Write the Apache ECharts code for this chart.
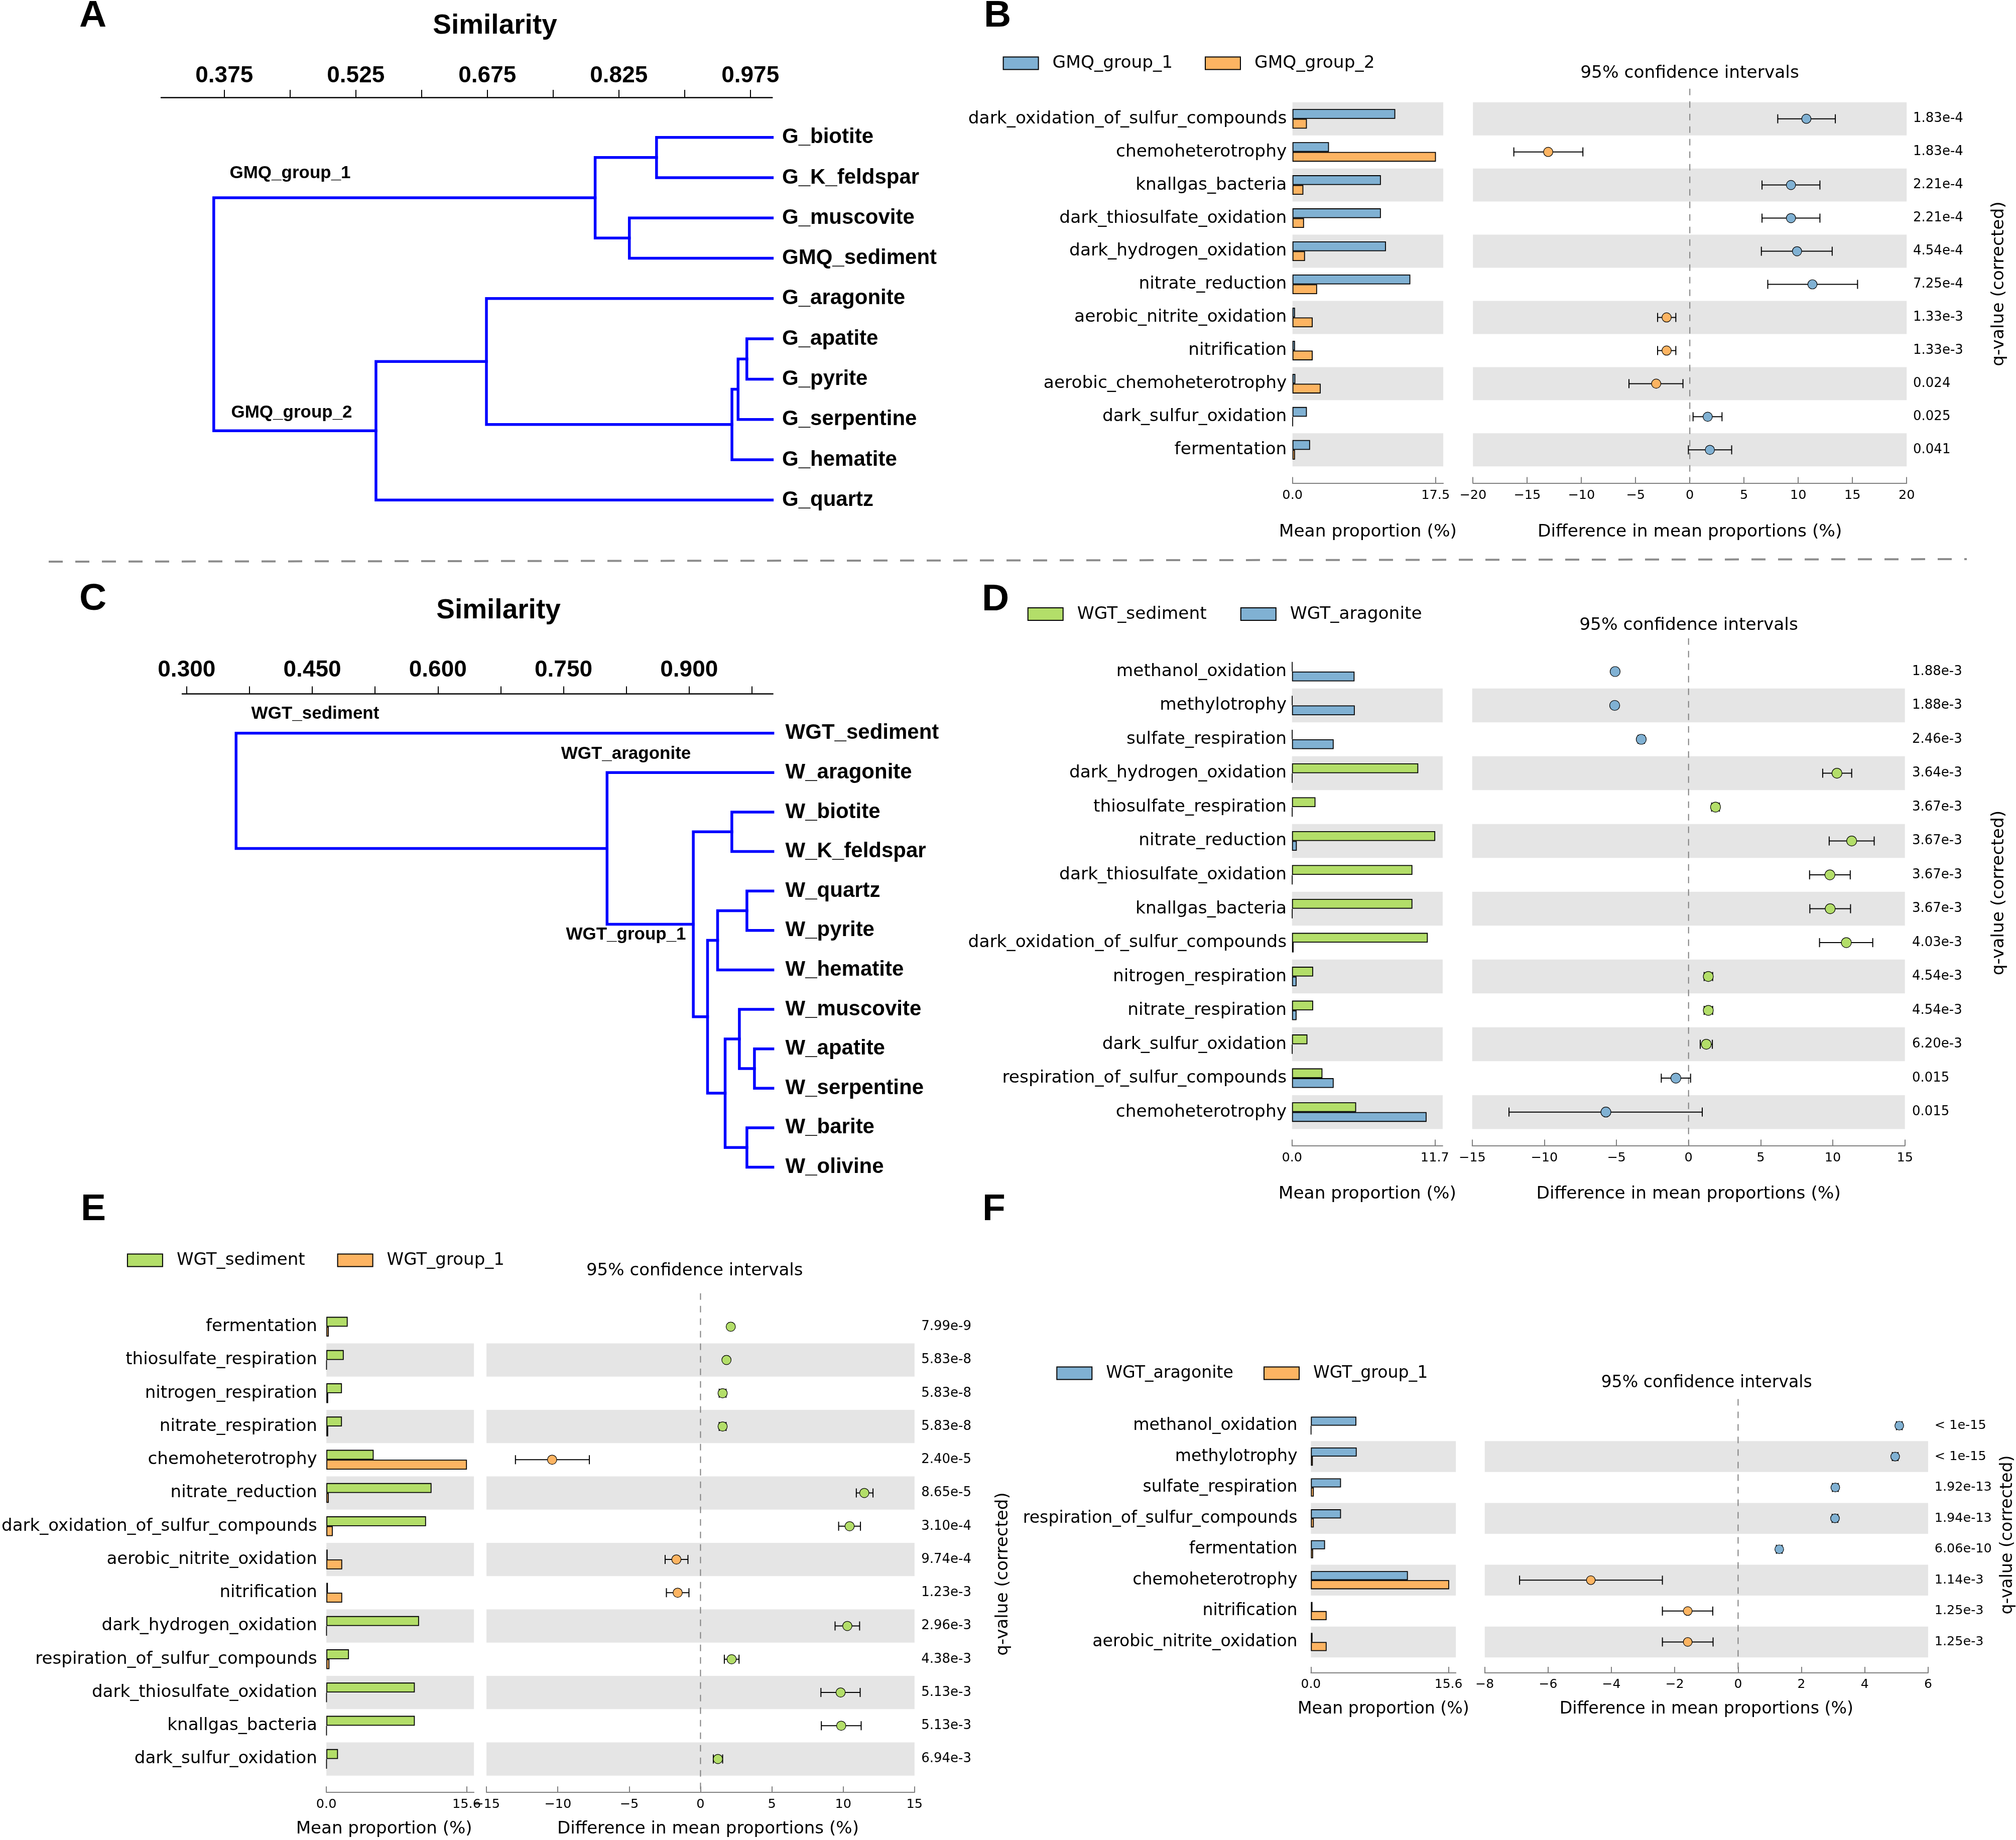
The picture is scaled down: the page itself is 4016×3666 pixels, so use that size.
<!DOCTYPE html>
<html><head><meta charset="utf-8">
<script src="https://cdn.jsdelivr.net/npm/echarts@6/dist/echarts.min.js"></script>
<style>html,body{margin:0;padding:0;background:#fff}#c{width:4016px;height:3666px}</style>
</head><body><div id="c"></div>
<script>
// ================= DATA =================
// Panel A dendrogram (similarity); merges: [childA, childB, similarity], children index leaves 0..n-1, merges n..
const A_LEAVES = ['G_biotite','G_K_feldspar','G_muscovite','GMQ_sediment','G_aragonite','G_apatite','G_pyrite','G_serpentine','G_hematite','G_quartz'];
const A_MERGES = [[0,1,0.868],[2,3,0.837],[10,11,0.798],[5,6,0.971],[13,7,0.961],[14,8,0.954],[4,15,0.674],[16,9,0.548],[12,17,0.363]];
const A_TICKS = [0.375,0.45,0.525,0.6,0.675,0.75,0.825,0.9,0.975];
const A_TICK_LABELS = [0.375,0.525,0.675,0.825,0.975];
const A_CLUSTERS = ['GMQ_group_1','GMQ_group_2'];

// Panel C dendrogram
const C_LEAVES = ['WGT_sediment','W_aragonite','W_biotite','W_K_feldspar','W_quartz','W_pyrite','W_hematite','W_muscovite','W_apatite','W_serpentine','W_barite','W_olivine'];
const C_MERGES = [[2,3,0.951],[4,5,0.969],[13,6,0.934],[8,9,0.978],[7,15,0.960],[10,11,0.969],[16,17,0.943],[14,18,0.922],[12,19,0.905],[1,20,0.802],[0,21,0.359]];
const C_TICKS = [0.3,0.375,0.45,0.525,0.6,0.675,0.75,0.825,0.9,0.975];
const C_TICK_LABELS = [0.3,0.45,0.6,0.75,0.9];
const C_CLUSTERS = ['WGT_sediment','WGT_aragonite','WGT_group_1'];

// Panel B
const B_GROUPS = ['GMQ_group_1','GMQ_group_2'];
const B_CATS = ['dark_oxidation_of_sulfur_compounds','chemoheterotrophy','knallgas_bacteria','dark_thiosulfate_oxidation','dark_hydrogen_oxidation','nitrate_reduction','aerobic_nitrite_oxidation','nitrification','aerobic_chemoheterotrophy','dark_sulfur_oxidation','fermentation'];
const B_V1 = [12.57,4.46,10.81,10.81,11.43,14.41,0.31,0.31,0.35,1.76,2.15];
const B_V2 = [1.76,17.54,1.33,1.41,1.53,3.01,2.47,2.47,3.45,0.05,0.31];
const B_DIFF = [10.75,-13.06,9.33,9.33,9.89,11.31,-2.14,-2.14,-3.10,1.65,1.85];
const B_LOW = [8.11,-16.23,6.66,6.66,6.60,7.19,-2.97,-2.97,-5.61,0.30,-0.13];
const B_HIGH = [13.42,-9.86,12.00,12.00,13.13,15.47,-1.29,-1.29,-0.63,2.97,3.86];
const B_Q = ['1.83e-4','1.83e-4','2.21e-4','2.21e-4','4.54e-4','7.25e-4','1.33e-3','1.33e-3','0.024','0.025','0.041'];
const B_BAR_TICKS = [0, 17.5];
const B_CI_RANGE = [-20, 20, 5];

// Panel D
const D_GROUPS = ['WGT_sediment','WGT_aragonite'];
const D_CATS = ['methanol_oxidation','methylotrophy','sulfate_respiration','dark_hydrogen_oxidation','thiosulfate_respiration','nitrate_reduction','dark_thiosulfate_oxidation','knallgas_bacteria','dark_oxidation_of_sulfur_compounds','nitrogen_respiration','nitrate_respiration','dark_sulfur_oxidation','respiration_of_sulfur_compounds','chemoheterotrophy'];
const D_V1 = [0.03,0.03,0.03,10.34,1.92,11.73,9.86,9.86,11.12,1.73,1.73,1.26,2.49,5.25];
const D_V2 = [5.12,5.14,3.41,0.03,0.03,0.39,0.03,0.03,0.13,0.37,0.37,0.03,3.41,11.02];
const D_DIFF = [-5.09,-5.12,-3.28,10.29,1.87,11.31,9.80,9.82,10.94,1.37,1.37,1.23,-0.88,-5.73];
const D_LOW = [-5.19,-5.22,-3.50,9.30,1.60,9.75,8.39,8.41,9.08,1.08,1.08,0.81,-1.89,-12.45];
const D_HIGH = [-4.99,-5.02,-3.06,11.31,2.14,12.87,11.21,11.23,12.77,1.67,1.67,1.65,0.14,0.95];
const D_Q = ['1.88e-3','1.88e-3','2.46e-3','3.64e-3','3.67e-3','3.67e-3','3.67e-3','3.67e-3','4.03e-3','4.54e-3','4.54e-3','6.20e-3','0.015','0.015'];
const D_BAR_TICKS = [0, 11.7];
const D_CI_RANGE = [-15, 15, 5];

// Panel E
const E_GROUPS = ['WGT_sediment','WGT_group_1'];
const E_CATS = ['fermentation','thiosulfate_respiration','nitrogen_respiration','nitrate_respiration','chemoheterotrophy','nitrate_reduction','dark_oxidation_of_sulfur_compounds','aerobic_nitrite_oxidation','nitrification','dark_hydrogen_oxidation','respiration_of_sulfur_compounds','dark_thiosulfate_oxidation','knallgas_bacteria','dark_sulfur_oxidation'];
const E_V1 = [2.37,1.93,1.73,1.73,5.26,11.70,11.09,0.14,0.17,10.31,2.51,9.84,9.84,1.29];
const E_V2 = [0.27,0.03,0.20,0.20,15.64,0.27,0.71,1.76,1.76,0.03,0.34,0.03,0.03,0.03];
const E_DIFF = [2.12,1.82,1.55,1.55,-10.40,11.48,10.45,-1.69,-1.60,10.29,2.18,9.82,9.86,1.22];
const E_LOW = [2.00,1.70,1.31,1.31,-12.97,10.92,9.68,-2.48,-2.39,9.43,1.67,8.44,8.47,0.90];
const E_HIGH = [2.24,1.94,1.79,1.79,-7.79,12.09,11.21,-0.88,-0.81,11.15,2.70,11.19,11.26,1.55];
const E_Q = ['7.99e-9','5.83e-8','5.83e-8','5.83e-8','2.40e-5','8.65e-5','3.10e-4','9.74e-4','1.23e-3','2.96e-3','4.38e-3','5.13e-3','5.13e-3','6.94e-3'];
const E_BAR_TICKS = [0, 15.6];
const E_CI_RANGE = [-15, 15, 5];

// Panel F
const F_GROUPS = ['WGT_aragonite','WGT_group_1'];
const F_CATS = ['methanol_oxidation','methylotrophy','sulfate_respiration','respiration_of_sulfur_compounds','fermentation','chemoheterotrophy','nitrification','aerobic_nitrite_oxidation'];
const F_V1 = [5.15,5.19,3.41,3.41,1.60,10.99,0.18,0.18];
const F_V2 = [0.03,0.22,0.33,0.33,0.25,15.67,1.78,1.78];
const F_DIFF = [5.09,4.96,3.07,3.06,1.30,-4.65,-1.59,-1.59];
const F_LOW = [5.00,4.87,2.98,2.97,1.21,-6.90,-2.39,-2.39];
const F_HIGH = [5.18,5.05,3.16,3.15,1.39,-2.39,-0.80,-0.79];
const F_Q = ['< 1e-15','< 1e-15','1.92e-13','1.94e-13','6.06e-10','1.14e-3','1.25e-3','1.25e-3'];
const F_BAR_TICKS = [0, 15.6];
const F_CI_RANGE = [-8, 6, 2];

// ================= STYLE =================
const COLORS = {GMQ_group_1:'#80b1d3', GMQ_group_2:'#fdb462', WGT_sediment:'#b3de69', WGT_aragonite:'#80b1d3', WGT_group_1:'#fdb462'};
const GRAY_BAND = '#e5e5e5';
const AXIS_GRAY = '#7f7f7f';
const DJ = "'DejaVu Sans', sans-serif";
const LIB = "'Liberation Sans', Arial, sans-serif";

const option = {animation:false, backgroundColor:'#fff', grid:[], xAxis:[], yAxis:[], series:[], legend:[], graphic:[]};

function dendro(leaves, merges, ticks, tickLabels, L) {
  const n = leaves.length;
  const gi = option.grid.length;
  option.grid.push({left:L.left, top:L.top, width:L.width, height:L.height});
  const xi = option.xAxis.length;
  option.xAxis.push({type:'value', gridIndex:gi, position:'top', offset:L.offset, min:L.min, max:1.0,
    axisLine:{show:true, onZero:false, lineStyle:{color:'#000', width:2.5}},
    axisTick:{show:true, inside:false, length:15, customValues:ticks, lineStyle:{color:'#000', width:2}},
    axisLabel:{show:true, customValues:tickLabels, formatter:v=>Number(v).toFixed(3), fontFamily:LIB, fontWeight:'bold', fontSize:46, color:'#000', margin:L.labelMargin},
    splitLine:{show:false}});
  const yi = option.yAxis.length;
  option.yAxis.push({type:'value', gridIndex:gi, position:'right', inverse:true, min:-0.5, max:n-0.5,
    axisLine:{show:false}, axisTick:{show:false}, splitLine:{show:false},
    axisLabel:{show:true, customValues:leaves.map((_,i)=>i), formatter:v=>leaves[Math.round(v)], fontFamily:LIB, fontWeight:'bold', fontSize:42, color:'#000', margin:L.leafMargin, align:'left', padding:[0,0,10,0]}});
  const pos = leaves.map((_,i)=>({x:1.0, y:i}));
  const segs = [];
  merges.forEach(([a,b,h])=>{
    const pa = pos[a], pb = pos[b];
    segs.push({coords:[[pa.x,pa.y],[h,pa.y],[h,pb.y],[pb.x,pb.y]]});
    pos.push({x:h, y:(pa.y+pb.y)/2});
  });
  option.series.push({type:'lines', coordinateSystem:'cartesian2d', xAxisIndex:xi, yAxisIndex:yi, polyline:true, clip:false,
    data:segs, lineStyle:{color:'#0000ff', width:5.5, opacity:1, join:'miter', cap:'square'}, silent:true, z:3});
}

function stamp(d, L) {
  const n = d.cats.length;
  const top = L.firstRow - L.rowH/2;
  const height = n*L.rowH;
  const bands = (n%2===1) ? [GRAY_BAND,'rgba(255,255,255,0)'] : ['rgba(255,255,255,0)',GRAY_BAND];
  const [gA, gB] = d.groups;
  const txt = (s)=>({fontFamily:DJ, fontSize:s, color:'#000'});

  // ---- mean proportion bars
  const g1 = option.grid.length;
  option.grid.push({left:L.barLeft, top, width:L.barWidth, height});
  const bx = option.xAxis.length;
  option.xAxis.push({type:'value', gridIndex:g1, min:0, max:L.barMax, offset:L.axisOffset,
    axisLine:{show:true, onZero:false, lineStyle:{color:AXIS_GRAY, width:2}},
    axisTick:{show:true, inside:true, length:12, customValues:d.barTicks, lineStyle:{color:AXIS_GRAY, width:2}},
    axisLabel:Object.assign({customValues:d.barTicks, formatter:v=>Number(v).toFixed(1), margin:L.tickMargin}, txt(L.tickFont)),
    splitLine:{show:false},
    name:'Mean proportion (%)', nameLocation:'middle', nameGap:L.nameGap,
    nameTextStyle:Object.assign({padding:L.barNamePad||0}, txt(L.font))});
  const by = option.yAxis.length;
  option.yAxis.push({type:'category', gridIndex:g1, data:d.cats, inverse:true,
    axisLine:{show:false}, axisTick:{show:false}, splitLine:{show:false},
    axisLabel:Object.assign({interval:0, margin:L.catMargin}, txt(L.font)),
    splitArea:{show:true, interval:0, areaStyle:{color:bands}}});
  [[gA,d.v1],[gB,d.v2]].forEach(([name,vals])=>{
    option.series.push({type:'bar', name, xAxisIndex:bx, yAxisIndex:by, data:vals, barWidth:L.barH, barGap:'0%',
      itemStyle:{color:COLORS[name], borderColor:'#000', borderWidth:1.8}, z:2, silent:true});
  });

  // ---- confidence intervals
  const g2 = option.grid.length;
  option.grid.push({left:L.ciLeft, top, width:L.ciWidth, height});
  const cx = option.xAxis.length;
  option.xAxis.push({type:'value', gridIndex:g2, min:d.ci[0], max:d.ci[1], interval:d.ci[2], offset:L.axisOffset,
    axisLine:{show:true, onZero:false, lineStyle:{color:AXIS_GRAY, width:2}},
    axisTick:{show:true, inside:true, length:12, lineStyle:{color:AXIS_GRAY, width:2}},
    axisLabel:Object.assign({formatter:v=>v<0?'\u2212'+(-v):String(v), margin:L.tickMargin, showMinLabel:true, showMaxLabel:true}, txt(L.tickFont)),
    splitLine:{show:false},
    name:'Difference in mean proportions (%)', nameLocation:'middle', nameGap:L.nameGap,
    nameTextStyle:Object.assign({padding:L.ciNamePad||0}, txt(L.font))});
  const cy = option.yAxis.length;
  option.yAxis.push({type:'category', gridIndex:g2, data:d.cats, inverse:true, position:'right',
    axisLine:{show:false}, axisTick:{show:false}, splitLine:{show:false},
    axisLabel:Object.assign({interval:0, margin:L.qMargin, align:'left', formatter:(v,i)=>d.q[i]}, txt(L.qFont)),
    splitArea:{show:true, interval:0, areaStyle:{color:bands}}});
  // zero reference line
  option.series.push({type:'custom', xAxisIndex:cx, yAxisIndex:cy, data:[[0,0]], encode:{x:0,y:1}, clip:false, silent:true, z:3,
    renderItem:(params, api)=>{
      const cs = params.coordSys; const x = api.coord([0,0])[0];
      return {type:'line', shape:{x1:x, y1:cs.y-L.zeroTop, x2:x, y2:cs.y+cs.height+L.axisOffset-4},
        style:{stroke:'#808080', lineWidth:2, lineDash:[13,12]}};
    }});
  // error bars
  option.series.push({type:'custom', xAxisIndex:cx, yAxisIndex:cy, clip:false, silent:true, z:4,
    data:d.cats.map((c,i)=>[d.low[i], d.high[i], i]), encode:{x:[0,1], y:2},
    renderItem:(params, api)=>{
      const i = api.value(2);
      const p1 = api.coord([api.value(0), i]); const p2 = api.coord([api.value(1), i]);
      const cap = 9, st = {stroke:'#000', lineWidth:2};
      return {type:'group', children:[
        {type:'line', shape:{x1:p1[0], y1:p1[1], x2:p2[0], y2:p2[1]}, style:st},
        {type:'line', shape:{x1:p1[0], y1:p1[1]-cap, x2:p1[0], y2:p1[1]+cap}, style:st},
        {type:'line', shape:{x1:p2[0], y1:p2[1]-cap, x2:p2[0], y2:p2[1]+cap}, style:st}
      ]};
    }});
  // mean differences
  option.series.push({type:'scatter', name:'diff_'+L.id, xAxisIndex:cx, yAxisIndex:cy, z:5, silent:true,
    data:d.diff.map((v,i)=>[v,i]), symbol:'circle', symbolSize:L.dot,
    itemStyle:{color:(p)=>p.value[0]>=0?COLORS[gA]:COLORS[gB], borderColor:'#000', borderWidth:1.2, opacity:1}});

  // legend items
  L.legend.forEach((lx,k)=>{
    option.legend.push({show:true, data:[{name:d.groups[k], icon:'rect'}], left:lx, top:L.legendY-20, padding:0,
      itemWidth:70, itemHeight:25, selectedMode:false,
      itemStyle:{borderColor:'#000', borderWidth:2},
      textStyle:{fontFamily:DJ, fontSize:L.font, color:'#000', padding:[0,0,0,23], lineHeight:40}});
  });
  // titles
  option.graphic.push({type:'text', x:L.ciTitle[0], y:L.ciTitle[1], silent:true,
    style:{text:'95% confidence intervals', fontFamily:DJ, fontSize:L.font, fill:'#000', align:'center', verticalAlign:'middle', textAlign:'center', textVerticalAlign:'middle'}});
  option.graphic.push({type:'text', x:L.qTitle[0], y:L.qTitle[1], rotation:Math.PI/2, silent:true,
    style:{text:'q-value (corrected)', fontFamily:DJ, fontSize:L.font, fill:'#000', align:'center', verticalAlign:'middle', textAlign:'center', textVerticalAlign:'middle'}});
}

function gtext(text, x, y, size, font, weight) {
  option.graphic.push({type:'text', x, y, silent:true,
    style:{text, fontFamily:font, fontSize:size, fontWeight:weight||'normal', fill:'#000', align:'center', verticalAlign:'middle', textAlign:'center', textVerticalAlign:'middle'}});
}

// ================= BUILD =================
dendro(A_LEAVES, A_MERGES, A_TICKS, A_TICK_LABELS, {left:321, top:233.5, width:1217.4, height:802.9, min:0.303, offset:39.5, labelMargin:20, leafMargin:19.6});
dendro(C_LEAVES, C_MERGES, C_TICKS, C_TICK_LABELS, {left:363, top:1421.4, width:1176.6, height:943.4, min:0.2947, offset:38.8, labelMargin:24.5, leafMargin:25});

stamp({groups:B_GROUPS, cats:B_CATS, v1:B_V1, v2:B_V2, diff:B_DIFF, low:B_LOW, high:B_HIGH, q:B_Q, barTicks:B_BAR_TICKS, ci:B_CI_RANGE},
  {id:'B', barLeft:2574.7, barWidth:300.4, barMax:18.44, ciLeft:2934.2, ciWidth:864, firstRow:236.7, rowH:65.96, barH:19.5,
   axisOffset:33.3, font:34.4, tickFont:25.6, qFont:26, catMargin:11.4, qMargin:12.8, tickMargin:11.5, nameGap:80, zeroTop:27, dot:18.5,
   legend:[1997.6, 2400], legendY:126, ciTitle:[3366,145.6], qTitle:[3981.8,565.5]});
stamp({groups:D_GROUPS, cats:D_CATS, v1:D_V1, v2:D_V2, diff:D_DIFF, low:D_LOW, high:D_HIGH, q:D_Q, barTicks:D_BAR_TICKS, ci:D_CI_RANGE},
  {id:'D', barLeft:2573.8, barWidth:300.1, barMax:12.34, ciLeft:2932.7, ciWidth:862, firstRow:1338, rowH:67.51, barH:19.5,
   axisOffset:33.2, font:34.4, tickFont:25.6, qFont:26, catMargin:10.7, qMargin:14.2, tickMargin:12, nameGap:79.5, zeroTop:32.5, dot:20,
   legend:[2046.7, 2470.8], legendY:1223.6, ciTitle:[3364,1246], qTitle:[3981.8,1779]});
stamp({groups:E_GROUPS, cats:E_CATS, v1:E_V1, v2:E_V2, diff:E_DIFF, low:E_LOW, high:E_HIGH, q:E_Q, barTicks:E_BAR_TICKS, ci:E_CI_RANGE},
  {id:'E', barLeft:647.8, barWidth:296.3, barMax:16.42, ciLeft:969.1, ciWidth:852.7, firstRow:2643.3, rowH:66.25, barH:19.7,
   axisOffset:33.5, font:34.1, tickFont:25.6, qFont:26, catMargin:18.4, qMargin:13.4, tickMargin:11, nameGap:56, zeroTop:33.4, dot:18.5,
   barNamePad:[0,64,0,0], ciNamePad:[0,0,0,30],
   legend:[252.9, 671.6], legendY:2511, ciTitle:[1383.7,2532.5], qTitle:[1997.8,3136]});
stamp({groups:F_GROUPS, cats:F_CATS, v1:F_V1, v2:F_V2, diff:F_DIFF, low:F_LOW, high:F_HIGH, q:F_Q, barTicks:F_BAR_TICKS, ci:F_CI_RANGE},
  {id:'F', barLeft:2611.4, barWidth:288.8, barMax:16.43, ciLeft:2957.7, ciWidth:883.2, firstRow:2840.5, rowH:61.56, barH:18.1,
   axisOffset:30.8, font:33.2, tickFont:25, qFont:25.5, catMargin:26.8, qMargin:12.8, tickMargin:11, nameGap:56, zeroTop:22.3, dot:17.5,
   legend:[2104.3, 2517], legendY:2736, ciTitle:[3399.6,2755], qTitle:[3999.6,3058]});

// panel letters, dendrogram titles and cluster annotations
[['A',185,32],['B',1987,32],['C',185,1194],['D',1983,1195],['E',186,2410],['F',1980,2410]].forEach(([t,x,y])=>gtext(t,x,y,75,LIB,'bold'));
gtext('Similarity', 986, 52, 55, LIB, 'bold');
gtext('Similarity', 993, 1217, 55, LIB, 'bold');
gtext(A_CLUSTERS[0], 578, 345, 35, LIB, 'bold');
gtext(A_CLUSTERS[1], 581, 822, 35, LIB, 'bold');
gtext(C_CLUSTERS[0], 628, 1422, 35, LIB, 'bold');
gtext(C_CLUSTERS[1], 1247, 1502, 35, LIB, 'bold');
gtext(C_CLUSTERS[2], 1247, 1862, 35, LIB, 'bold');
// dashed separator between the upper and middle rows
option.graphic.push({type:'line', silent:true, shape:{x1:97, y1:1119, x2:3918, y2:1114},
  style:{stroke:'#8c8c8c', lineWidth:4, lineDash:[28,25]}});

const chart = echarts.init(document.getElementById('c'), null, {renderer:'canvas', width:4016, height:3666});
chart.setOption(option);
</script></body></html>
